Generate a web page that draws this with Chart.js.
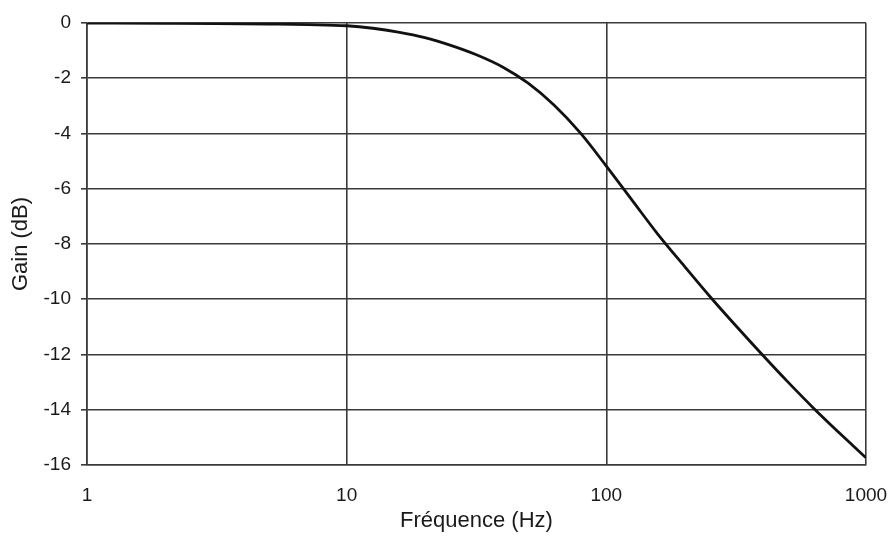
<!DOCTYPE html>
<html>
<head>
<meta charset="utf-8">
<script src="https://cdn.jsdelivr.net/npm/chart.js@4/dist/chart.umd.min.js"></script>
<style>
html,body{margin:0;padding:0;background:#fff;}
#wrap{width:892px;height:546px;}
</style>
</head>
<body>
<div id="wrap"><canvas id="c" width="892" height="546"></canvas></div>
<script>
const frequencies = [1, 2, 3.16, 5, 7.1, 10, 12.6, 15.8, 20, 25, 31.6, 40, 50, 63, 79.4, 100, 126, 158, 200, 251, 316, 398, 501, 631, 794, 1000];
const gainDb = [0, -0.01, -0.02, -0.04, -0.06, -0.1, -0.19, -0.33, -0.53, -0.8, -1.15, -1.6, -2.18, -2.98, -3.98, -5.18, -6.43, -7.65, -8.81, -9.91, -10.97, -12.0, -13.0, -13.96, -14.86, -15.74];
const xTickValues = [1, 10, 100, 1000];
const xTickLabels = ['1', '10', '100', '1000'];
const yTickValues = [0, -2, -4, -6, -8, -10, -12, -14, -16];
const yTickLabels = ['0', '-2', '-4', '-6', '-8', '-10', '-12', '-14', '-16'];
const xTitle = 'Fréquence (Hz)';
const yTitle = 'Gain (dB)';

const points = frequencies.map((f, i) => ({x: f, y: gainDb[i]}));
const gridColor = '#3a3a3a';
const textColor = '#1a1a1a';
const fontFamily = '"Liberation Sans", Arial, Helvetica, sans-serif';

new Chart(document.getElementById('c'), {
  type: 'line',
  data: {
    datasets: [{
      data: points,
      borderColor: '#111',
      borderWidth: 2.8,
      pointRadius: 0,
      fill: false,
      cubicInterpolationMode: 'monotone'
    }]
  },
  options: {
    responsive: false,
    animation: false,
    devicePixelRatio: 1,
    layout: {padding: {top: 23, right: 26, left: 0, bottom: 0}},
    plugins: {legend: {display: false}, tooltip: {enabled: false}},
    scales: {
      x: {
        type: 'logarithmic',
        min: 1, max: 1000,
        afterBuildTicks: (s) => { s.ticks = xTickValues.map(v => ({value: v})); },
        afterFit: (s) => { s.height = 81; s.paddingLeft = 0; s.paddingRight = 0; },
        ticks: {
          autoSkip: false, maxRotation: 0,
          padding: 19,
          color: textColor,
          font: {family: fontFamily, size: 19},
          callback: (v) => { const i = xTickValues.indexOf(v); return i >= 0 ? xTickLabels[i] : ''; }
        },
        grid: {color: gridColor, lineWidth: 1.6, drawTicks: false},
        border: {color: gridColor, width: 1.6},
        title: {display: true, text: xTitle, color: textColor, font: {family: fontFamily, size: 22}, padding: {top: 0, bottom: 12}}
      },
      y: {
        type: 'linear',
        min: -16, max: 0,
        afterBuildTicks: (s) => { s.ticks = yTickValues.map(v => ({value: v})); },
        afterFit: (s) => { s.width = 87; s.paddingTop = 0; s.paddingBottom = 0; },
        ticks: {
          padding: 10,
          color: textColor,
          font: {family: fontFamily, size: 19},
          callback: (v) => { const i = yTickValues.indexOf(v); return i >= 0 ? yTickLabels[i] : ''; }
        },
        grid: {color: gridColor, lineWidth: 1.6, drawTicks: true, tickLength: 6},
        border: {color: gridColor, width: 1.6},
        title: {display: true, text: yTitle, color: textColor, font: {family: fontFamily, size: 22}, padding: {top: 8, bottom: 0}}
      }
    }
  }
});
</script>
</body>
</html>
